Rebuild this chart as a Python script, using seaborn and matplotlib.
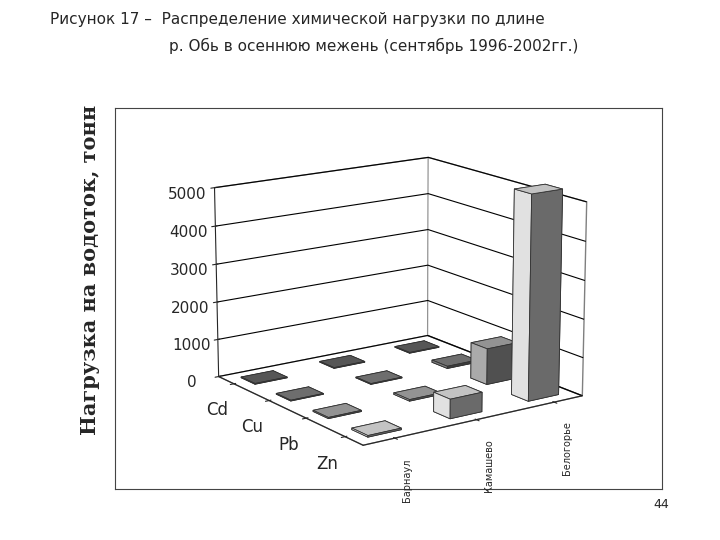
import numpy as np
import matplotlib
matplotlib.use("Agg")
import matplotlib.pyplot as plt
import seaborn as sns

sns.set_style("white")
plt.rcParams['font.family'] = ['DejaVu Sans']

metals = ["Cd", "Cu", "Pb", "Zn"]
places = ["Барнаул", "Камашево", "Белогорье"]
# load, tonnes: rows = metals, cols = places
loads = [
    [20, 20, 20],
    [20, 20, 60],
    [30, 40, 950],
    [40, 500, 5300],
]
bar_colors = ["#707070", "#909090", "#c0c0c0", "#ffffff"]

fig = plt.figure(figsize=(7.2, 5.4), dpi=100)
fig.text(0.07, 0.955, "Рисунок 17 –  Распределение химической нагрузки по длине", fontsize=11)
fig.text(0.235, 0.905, "р. Обь в осеннюю межень (сентябрь 1996-2002гг.)", fontsize=11)
fig.text(0.125, 0.5, "Нагрузка на водоток, тонн", rotation=90, va="center", ha="center",
         fontsize=15, fontweight="bold", family="DejaVu Serif")
fig.text(0.93, 0.06, "44", fontsize=9, ha="right")

frame = fig.add_axes([0.16, 0.095, 0.76, 0.705])
frame.set_xticks([]); frame.set_yticks([])
for s in frame.spines.values():
    s.set_color("#444444")

ax = fig.add_axes([0.12, 0.07, 0.85, 0.76], projection="3d")
ax.set_facecolor("none")
dx = dy = 0.4
for i, m in enumerate(metals):
    for j, p in enumerate(places):
        ax.bar3d(i, j, 0, dx, dy, loads[i][j], color=bar_colors[i],
                 edgecolor="#333333", linewidth=0.6, shade=True)

ax.set_xticks(np.arange(len(metals)) + dx / 2)
ax.set_xticklabels(metals, fontsize=12)
ax.set_yticks(np.arange(len(places)) + dy / 2)
ax.set_yticklabels(places, fontsize=7, rotation=90)
ax.set_zlim(0, 5000)
ax.set_zticks([0, 1000, 2000, 3000, 4000, 5000])
ax.tick_params(axis="z", labelsize=11)
ax.view_init(elev=15, azim=-35)
ax.zaxis.set_ticks_position("lower")
for a in (ax.xaxis, ax.yaxis, ax.zaxis):
    a.pane.set_facecolor("white")
    a.pane.set_edgecolor("black")
ax.zaxis._axinfo["grid"]["color"] = "black"
ax.xaxis._axinfo["grid"]["color"] = (1, 1, 1, 0)
ax.yaxis._axinfo["grid"]["color"] = (1, 1, 1, 0)

fig.savefig("out.png", dpi=100)
